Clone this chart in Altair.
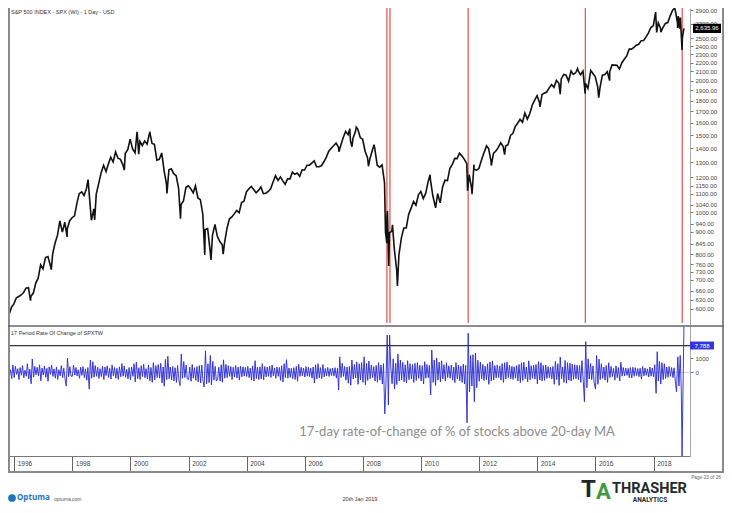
import altair as alt
import pandas as pd

# ---------------- S&P 500 monthly closes ----------------
spx_1995 = [584.41, 581.50, 605.37, 615.93]  # Sep-Dec
spx_1996 = [636.02, 640.43, 645.50, 654.17, 669.12, 670.63, 639.95, 651.99, 687.31, 705.27, 757.02, 740.74]
spx_1997 = [786.16, 790.82, 757.12, 801.34, 848.28, 885.14, 954.29, 899.47, 947.28, 914.62, 955.40, 970.43]
spx_1998 = [980.28, 1049.34, 1101.75, 1111.75, 1090.82, 1133.84, 1120.67, 957.28, 1017.01, 1098.67, 1163.63, 1229.23]
spx_1999 = [1279.64, 1238.33, 1286.37, 1335.18, 1301.84, 1372.71, 1328.72, 1320.41, 1282.71, 1362.93, 1388.91, 1469.25]
spx_2000 = [1394.46, 1366.42, 1498.58, 1452.43, 1420.60, 1454.60, 1430.83, 1517.68, 1436.51, 1429.40, 1314.95, 1320.28]
spx_2001 = [1366.01, 1239.94, 1160.33, 1249.46, 1255.82, 1224.42, 1211.23, 1133.58, 1040.94, 1059.78, 1139.45, 1148.08]
spx_2002 = [1130.20, 1106.73, 1147.39, 1076.92, 1067.14, 989.82, 911.62, 916.07, 815.28, 885.76, 936.31, 879.82]
spx_2003 = [855.70, 841.15, 848.18, 916.92, 963.59, 974.50, 990.31, 1008.01, 995.97, 1050.71, 1058.20, 1111.92]
spx_2004 = [1131.13, 1144.94, 1126.21, 1107.30, 1120.68, 1140.84, 1101.72, 1104.24, 1114.58, 1130.20, 1173.82, 1211.92]
spx_2005 = [1181.27, 1203.60, 1180.59, 1156.85, 1191.50, 1191.33, 1234.18, 1220.33, 1228.81, 1207.01, 1249.48, 1248.29]
spx_2006 = [1280.08, 1280.66, 1294.83, 1310.61, 1270.09, 1270.20, 1276.66, 1303.82, 1335.85, 1377.94, 1400.63, 1418.30]
spx_2007 = [1438.24, 1406.82, 1420.86, 1482.37, 1530.62, 1503.35, 1455.27, 1473.99, 1526.75, 1549.38, 1481.14, 1468.36]
spx_2008 = [1378.55, 1330.63, 1322.70, 1385.59, 1400.38, 1280.00, 1267.38, 1282.83, 1166.36, 968.75, 896.24, 903.25]
spx_2009 = [825.88, 735.09, 797.87, 872.81, 919.14, 919.32, 987.48, 1020.62, 1057.08, 1036.19, 1095.63, 1115.10]
spx_2010 = [1073.87, 1104.49, 1169.43, 1186.69, 1089.41, 1030.71, 1101.60, 1049.33, 1141.20, 1183.26, 1180.55, 1257.64]
spx_2011 = [1286.12, 1327.22, 1325.83, 1363.61, 1345.20, 1320.64, 1292.28, 1218.89, 1131.42, 1253.30, 1246.96, 1257.60]
spx_2012 = [1312.41, 1365.68, 1408.47, 1397.91, 1310.33, 1362.16, 1379.32, 1406.58, 1440.67, 1412.16, 1416.18, 1426.19]
spx_2013 = [1498.11, 1514.68, 1569.19, 1597.57, 1630.74, 1606.28, 1685.73, 1632.97, 1681.55, 1756.54, 1805.81, 1848.36]
spx_2014 = [1782.59, 1859.45, 1872.34, 1883.95, 1923.57, 1960.23, 1930.67, 2003.37, 1972.29, 2018.05, 2067.56, 2058.90]
spx_2015 = [1994.99, 2104.50, 2067.89, 2085.51, 2107.39, 2063.11, 2103.84, 1972.18, 1920.03, 2079.36, 2080.41, 2043.94]
spx_2016 = [1940.24, 1932.23, 2059.74, 2065.30, 2096.95, 2098.86, 2173.60, 2170.95, 2168.27, 2126.15, 2198.81, 2238.83]
spx_2017 = [2278.87, 2363.64, 2362.72, 2384.20, 2411.80, 2423.41, 2470.30, 2471.65, 2519.36, 2575.26, 2647.58, 2673.61]
spx_2018 = [2823.81, 2713.83, 2640.87, 2648.05, 2705.27, 2718.37, 2816.29, 2901.52, 2913.98, 2711.74, 2760.17, 2506.85]

# swing highs / lows between month ends
spx_swing_dates = ["1996-07-24", "1997-04-11", "1997-10-27", "1998-07-17", "1998-10-08", "1999-10-15",
                   "2000-03-24", "2000-04-14", "2000-09-01", "2001-04-04", "2001-09-21", "2002-07-23",
                   "2002-10-09", "2003-03-11", "2007-03-05", "2007-07-19", "2007-08-16", "2007-10-09",
                   "2008-03-10", "2008-05-19", "2008-10-10", "2008-10-27", "2008-11-04", "2008-11-20",
                   "2009-01-06", "2009-03-09", "2010-04-23", "2010-07-02", "2011-05-02", "2011-08-08",
                   "2011-10-03", "2011-10-27", "2012-04-02", "2012-06-01", "2012-11-15", "2014-02-03",
                   "2014-10-15", "2015-05-21", "2015-08-25", "2015-11-03", "2016-02-11", "2016-06-27",
                   "2018-01-26", "2018-02-08", "2018-04-02", "2018-09-20", "2018-10-29", "2018-11-07",
                   "2018-11-23", "2018-12-03", "2018-12-24", "2019-01-17"]
spx_swing_values = [626.65, 737.65, 876.99, 1186.75, 959.44, 1247.41,
                    1527.46, 1356.56, 1520.77, 1103.25, 965.80, 797.70,
                    776.76, 800.73, 1374.12, 1553.08, 1411.27, 1565.15,
                    1273.37, 1426.63, 899.22, 848.92, 1005.75, 752.44,
                    934.70, 676.53, 1217.28, 1022.58, 1361.22, 1119.46,
                    1099.23, 1284.59, 1419.04, 1278.04, 1353.33, 1741.89,
                    1862.49, 2130.82, 1867.61, 2109.79, 1829.08, 2000.54,
                    2872.87, 2581.00, 2581.88, 2930.75, 2641.25, 2813.89,
                    2632.56, 2790.37, 2351.10, 2635.96]
spx_last_value = 2635.96
spx_last_label = "2,635.96"

price_ticks = [600, 630, 660, 700, 730, 760, 800, 845, 900, 940, 1000, 1040, 1100, 1150, 1200,
               1300, 1400, 1500, 1600, 1700, 1800, 1900, 2000, 2100, 2200, 2300, 2400, 2500, 2700, 2900]

red_line_dates = ["2008-10-28", "2008-12-05", "2011-08-15", "2015-08-27", "2018-12-26"]

# ---------------- 17 period ROC of SPXTW, twice a month (1st, 15th) ----------------
osc_1995 = [1240, -320, 180, -450, 520]  # Oct 15 - Dec 15
osc_1996 = [-380, 420, -150, 260, -520, 340, -210, 480, -390, 150, -280, 610, -470, 230, -820, 950, -340, 420, -180, 360, -250, 540, -610, 300]
osc_1997 = [-200, 450, -360, 280, -640, 390, -150, 520, -300, 240, -420, 380, -510, 180, -260, 470, -380, 290, -450, -980, 1020, -320, 400, -280]
osc_1998 = [-280, 520, -190, 340, -260, 180, -430, 360, -220, 410, -380, 250, -560, 340, -1200, 880, -420, 760, -350, 480, -290, 370, -440, 260]
osc_1999 = [-310, 430, -520, 380, -240, 460, -370, 290, -480, 530, -260, 340, -420, 280, -510, 390, -330, 620, -280, 450, -360, 210, -470, 340]
osc_2000 = [-540, 380, -290, 610, -680, 720, -450, 330, -520, 470, -310, 580, -390, 260, -480, 520, -610, 340, -720, 690, -540, 480, -380, 560]
osc_2001 = [-420, 640, -760, 380, -1000, 920, -520, 1150, -460, 380, -540, 420, -610, 330, -720, 480, -580, -950, 1300, -430, 760, -380, 520, -460]
osc_2002 = [-520, 380, -640, 560, -420, 330, -580, 410, -690, 480, -760, 520, -620, -1050, 1540, -820, 610, -740, 1200, -900, 780, -560, 420, -630]
osc_2003 = [-480, 360, -620, 540, -710, 890, -420, 560, -380, 470, -290, 410, -520, 360, -340, 480, -410, 380, -560, 440, -320, 390, -270, 350]
osc_2004 = [-300, 420, -380, 290, -560, 460, -620, 830, -450, 360, -520, 390, -480, 620, -540, 410, -330, 380, -290, 440, -370, 520, -260, 310]
osc_2005 = [-420, 380, -290, 350, -580, 470, -690, 620, -380, 900, -420, 310, -360, 280, -450, 330, -510, 420, -640, 580, -290, 360, -250, 310]
osc_2006 = [-340, 410, -280, 360, -310, 290, -420, 380, -760, 540, -480, 620, -390, 340, -450, 560, -330, 280, -260, 350, -300, 270, -240, 310]
osc_2007 = [-280, 330, -410, 290, -1270, 1100, -360, 640, -290, 410, -560, 380, -780, 420, -920, 880, -480, 560, -410, 740, -860, 610, -540, 690]
osc_2008 = [-720, 1100, -900, 640, -580, 800, -460, 520, -380, 410, -620, 480, -710, 690, -560, 520, -840, 620, -2980, -900, 2660, -2340, 2660, 400]
osc_2009 = [-820, 960, -1200, 640, -880, 1300, -620, 880, -540, 720, -680, 540, -760, 830, -520, 610, -480, 560, -720, 640, -580, 690, -430, 510]
osc_2010 = [-620, 480, -840, 760, -420, 560, -380, 490, -1620, 1590, -720, 880, -940, 1020, -560, 730, -680, 820, -470, 540, -620, 690, -380, 460]
osc_2011 = [-420, 510, -560, 380, -740, 690, -480, 520, -610, 440, -720, 580, -840, 490, -3600, 2790, -1400, 1200, -980, 1260, -2100, 1380, -1100, 860]
osc_2012 = [-640, 720, -480, 560, -590, 430, -520, 610, -860, 740, -620, 820, -540, 480, -410, 530, -380, 460, -560, 620, -720, 680, -490, 740]
osc_2013 = [-380, 520, -460, 430, -510, 390, -420, 480, -620, 560, -740, 690, -580, 720, -460, 380, -690, 820, -540, 470, -430, 510, -480, 560]
osc_2014 = [-820, 760, -540, 680, -620, 490, -580, 520, -440, 410, -390, 360, -480, 420, -860, 780, -520, 610, -940, 1080, -460, 380, -720, 840]
osc_2015 = [-780, 690, -560, 640, -620, 580, -490, 540, -460, 510, -540, 480, -720, 830, -640, -2100, 2190, -1100, 960, -480, 620, -520, 460, -740]
osc_2016 = [-1200, 1200, -860, 940, -520, 610, -440, 380, -560, 490, -720, 680, -380, 420, -310, 280, -560, 460, -390, 340, -620, 720, -280, 340]
osc_2017 = [-260, 310, -220, 280, -380, 340, -410, 360, -290, 330, -240, 270, -310, 290, -480, 420, -260, 310, -220, 250, -340, 380, -280, 310]
osc_2018 = [-320, 540, -1500, 1470, -620, 780, -840, 690, -520, 610, -440, 380, -360, 410, -290, 340, -380, 320, -640, -1390, 1100, -980, 1200, -1300]
osc_tail_dates = ["2018-12-24", "2019-01-17"]
osc_tail_values = [-6500, 7788]
osc_last_label = "7,788"
osc_level_line = 1900
osc_ticks = [0, 1000, 2000]

# ---------------- build tables ----------------
spx_years = {1995: spx_1995, 1996: spx_1996, 1997: spx_1997, 1998: spx_1998, 1999: spx_1999,
             2000: spx_2000, 2001: spx_2001, 2002: spx_2002, 2003: spx_2003, 2004: spx_2004,
             2005: spx_2005, 2006: spx_2006, 2007: spx_2007, 2008: spx_2008, 2009: spx_2009,
             2010: spx_2010, 2011: spx_2011, 2012: spx_2012, 2013: spx_2013, 2014: spx_2014,
             2015: spx_2015, 2016: spx_2016, 2017: spx_2017, 2018: spx_2018}
rows = []
for yr, vals in spx_years.items():
    m0 = 13 - len(vals)
    for i, v in enumerate(vals):
        rows.append({"date": pd.Timestamp(yr, m0 + i, 28), "price": v})
for d, v in zip(spx_swing_dates, spx_swing_values):
    rows.append({"date": pd.Timestamp(d), "price": v})
price_df = pd.DataFrame(rows).sort_values("date").reset_index(drop=True)

osc_years = {1995: osc_1995, 1996: osc_1996, 1997: osc_1997, 1998: osc_1998, 1999: osc_1999,
             2000: osc_2000, 2001: osc_2001, 2002: osc_2002, 2003: osc_2003, 2004: osc_2004,
             2005: osc_2005, 2006: osc_2006, 2007: osc_2007, 2008: osc_2008, 2009: osc_2009,
             2010: osc_2010, 2011: osc_2011, 2012: osc_2012, 2013: osc_2013, 2014: osc_2014,
             2015: osc_2015, 2016: osc_2016, 2017: osc_2017, 2018: osc_2018}
orows = []
for yr, vals in osc_years.items():
    days = [pd.Timestamp(yr, m, d) for m in range(1, 13) for d in (1, 15)]
    days = days[-len(vals):] if yr == 1995 else days[:len(vals)]
    for d, v in zip(days, vals):
        orows.append({"date": d, "osc": v})
for d, v in zip(osc_tail_dates, osc_tail_values):
    orows.append({"date": pd.Timestamp(d), "osc": v})
osc_df = pd.DataFrame(orows).sort_values("date").reset_index(drop=True)

red_df = pd.DataFrame({"date": pd.to_datetime(red_line_dates)})
last_df = pd.DataFrame({"price": [spx_last_value], "label": [spx_last_label]})
level_df = pd.DataFrame({"osc": [osc_level_line]})
zero_df = pd.DataFrame({"osc": [0]})
one = pd.DataFrame({"a": [0]})

# ---------------- scales / axes ----------------
W, H = 716, 497
PX = 682          # right price axis position
P_BOT = 318       # bottom of price panel
O_BOT = 448       # bottom of oscillator panel
FRAME_BOT = 464
FONT = "Liberation Sans"

xscale = alt.Scale(domain=[alt.DateTime(year=1995, month=10, date=15),
                           alt.DateTime(year=2019, month=4, date=3)], range=[0, PX])
xaxis = alt.Axis(orient="bottom", offset=O_BOT - H,
                 values=[alt.DateTime(year=y, month=1, date=1) for y in range(1996, 2019, 2)],
                 format="%Y", tickSize=FRAME_BOT - O_BOT, tickColor="#666", tickWidth=1,
                 domainColor="#777", domainWidth=1.2, labelAlign="left", labelBaseline="middle",
                 labelPadding=-9, labelOffset=3, labelFontSize=6.5, labelColor="#444", labelFont=FONT,
                 title=None, grid=False, labelFlush=False, labelOverlap=False)
X = alt.X("date:T", scale=xscale, axis=xaxis)

yscale_p = alt.Scale(type="log", domain=[548, 2935], range=[P_BOT, 0], nice=False)
yaxis_p = alt.Axis(orient="right", offset=PX - W, values=price_ticks, format=".2f", tickSize=3,
                   tickColor="#777", domainColor="#aaa", labelFontSize=6, labelColor="#444",
                   labelFont=FONT, labelPadding=2, title=None, grid=False, labelOverlap=False,
                   labelFlush=False)
YP = alt.Y("price:Q", scale=yscale_p, axis=yaxis_p)

yscale_o = alt.Scale(domain=[-5979, 3307], range=[O_BOT, P_BOT], nice=False, zero=False, clamp=True)
yaxis_o = alt.Axis(orient="right", offset=PX - W, values=osc_ticks, format="d", tickSize=3,
                   tickColor="#777", domainColor="#aaa", labelFontSize=6, labelColor="#444",
                   labelFont=FONT, labelPadding=2, title=None, grid=False, labelOverlap=False,
                   labelFlush=False)
YO = alt.Y("osc:Q", scale=yscale_o, axis=yaxis_o)

box_shape = "M-1,-0.33H1V0.33H-1Z"

# ---------------- price panel ----------------
red_rules = alt.Chart(red_df).mark_rule(color="#e8595c", strokeWidth=1.3).encode(
    x=X, y=alt.value(0), y2=alt.value(P_BOT - 3))
price_line = alt.Chart(price_df).mark_line(color="#111111", strokeWidth=1.6, clip=True).encode(x=X, y=YP)
last_box = alt.Chart(last_df).mark_point(shape=box_shape, size=784, filled=True, color="#000000",
                                         opacity=1).encode(x=alt.value(699), y=YP)
last_txt = alt.Chart(last_df).mark_text(color="white", fontSize=6, font=FONT).encode(
    x=alt.value(699), y=YP, text="label:N")
price_panel = alt.layer(red_rules, price_line, last_box, last_txt)

# ---------------- oscillator panel ----------------
zero_rule = alt.Chart(zero_df).mark_rule(color="#c4cbe6", strokeWidth=1).encode(
    y=YO, x=alt.value(0), x2=alt.value(PX))
level_rule = alt.Chart(level_df).mark_rule(color="#333333", strokeWidth=1.2).encode(
    y=YO, x=alt.value(0), x2=alt.value(PX))
osc_line = alt.Chart(osc_df).mark_line(color="#2727d4", strokeWidth=0.9).encode(x=X, y=YO)
osc_panel = alt.layer(zero_rule, level_rule, osc_line)


# ---------------- decorations ----------------
def hrule(y, x1, x2, color, w):
    return alt.Chart(one).mark_rule(color=color, strokeWidth=w).encode(
        x=alt.value(x1), x2=alt.value(x2), y=alt.value(y))


def vrule(x, y1, y2, color, w):
    return alt.Chart(one).mark_rule(color=color, strokeWidth=w).encode(
        x=alt.value(x), y=alt.value(y1), y2=alt.value(y2))


def label(text, x, y, size, color, align="left", weight="normal", font=FONT):
    return alt.Chart(one).mark_text(text=text, fontSize=size, color=color, align=align,
                                    baseline="middle", fontWeight=weight, font=font).encode(
        x=alt.value(x), y=alt.value(y))


deco = [
    vrule(1, 0, FRAME_BOT, "#8a8a8a", 2),
    vrule(715, 0, FRAME_BOT, "#8a8a8a", 2),
    hrule(FRAME_BOT, 0, 716, "#8a8a8a", 2),
    hrule(P_BOT, 0, 716, "#666666", 1.4),
    label("S&P 500 INDEX - SPX (WI) - 1 Day - USD", 3, 4, 5.5, "#333333"),
    label("17 Period Rate Of Change of SPXTW", 3, 325, 5.5, "#333333"),
    label("17-day rate-of-change of % of stocks above 20-day MA", 449, 424, 13, "#8c8c8c",
          align="center", font="Lato"),
    alt.Chart(one).mark_point(shape=box_shape, size=576, filled=True, color="#3535dd", opacity=1).encode(
        x=alt.value(694), y=alt.value(337.5)),
    label(osc_last_label, 694, 337.5, 6, "white", align="center"),
    # footer
    alt.Chart(one).mark_point(shape="circle", size=60, filled=True, color="#1f74c0", opacity=1).encode(
        x=alt.value(4), y=alt.value(490)),
    label("Optuma", 9, 490, 8, "#1f74c0", weight="bold", font="Open Sans"),
    label("optuma.com", 46, 491, 5, "#555555"),
    label("20th Jan 2019", 352, 491, 5.5, "#333333", align="center"),
    label("T", 573, 482, 24, "#1c2626", weight="bold", font="Roboto"),
    label("A", 588, 484, 22, "#3d9b3d", weight="bold", font="Roboto"),
    label("THRASHER", 604, 481, 14.5, "#1f2b2b", weight="bold", font="Roboto"),
    label("ANALYTICS", 642, 492, 6.5, "#1f2b2b", align="center", weight="bold", font="Roboto"),
    label("Page 23 of 26", 713, 470, 4.8, "#666666", align="right"),
]

chart = alt.layer(price_panel, osc_panel, *deco).resolve_scale(y="independent").properties(
    width=W, height=H, autosize=alt.AutoSizeParams(type="none"), padding=0
).configure_view(stroke=None)

chart.save("out.html", embed_options={"renderer": "svg", "actions": False})
